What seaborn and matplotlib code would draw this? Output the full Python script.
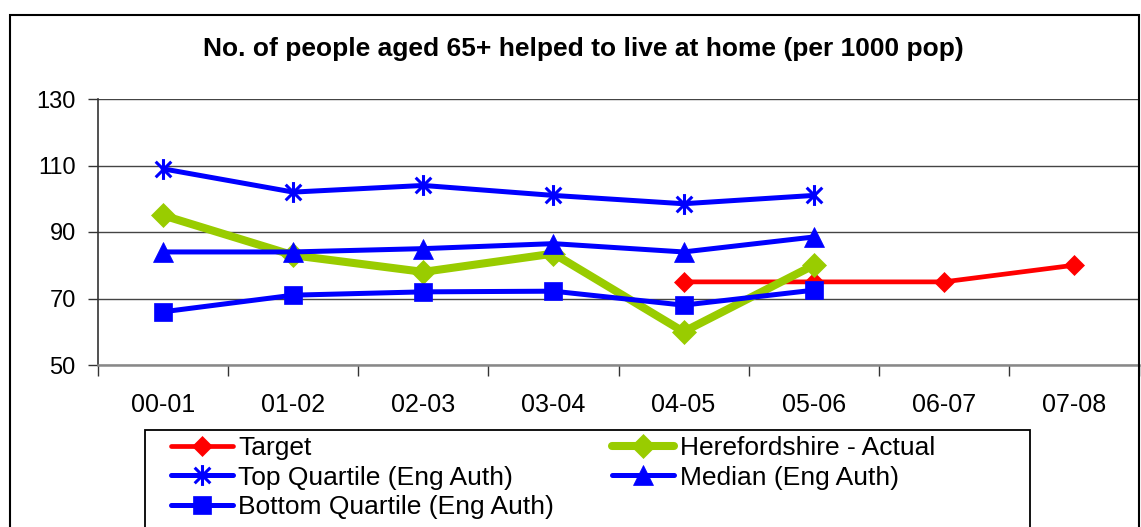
import matplotlib
matplotlib.use("Agg")
import matplotlib.pyplot as plt
from matplotlib.patches import Rectangle
from matplotlib.path import Path
from matplotlib.ticker import FixedLocator
import numpy as np
import pandas as pd
import seaborn as sns

# Financial years on the x axis
years = ["00-01", "01-02", "02-03", "03-04", "04-05", "05-06", "06-07", "07-08"]

# Series values (per 1000 population); None where no value exists
target = [None, None, None, None, 75, 75, 75, 80]
hereford_actual = [95, 83, 78, 83.5, 60, 80, None, None]
top_quartile = [109, 102, 104, 101, 98.5, 101, None, None]
median = [84, 84, 85, 86.5, 84, 88.5, None, None]
bottom_quartile = [66, 71, 72, 72.2, 68, 72.5, None, None]

# Asterisk marker: vertical stroke plus an X
star = Path(
    [(0, -1), (0, 1), (-0.75, -0.75), (0.75, 0.75), (-0.75, 0.75), (0.75, -0.75)],
    [Path.MOVETO, Path.LINETO, Path.MOVETO, Path.LINETO, Path.MOVETO, Path.LINETO],
)

series = [
    ("Target", target, dict(color="#FF0000", marker="D", lw=3.4, ms=10.5)),
    ("Herefordshire - Actual", hereford_actual, dict(color="#99CC00", marker="D", lw=5.8, ms=12.5)),
    ("Top Quartile (Eng Auth)", top_quartile, dict(color="#0000FF", marker=star, lw=3.6, ms=15)),
    ("Median (Eng Auth)", median, dict(color="#0000FF", marker="^", lw=3.6, ms=15)),
    ("Bottom Quartile (Eng Auth)", bottom_quartile, dict(color="#0000FF", marker="s", lw=3.6, ms=13.5)),
]

sns.set_theme(style="white")
plt.rcParams["font.family"] = ["Liberation Sans", "DejaVu Sans"]
plt.rcParams["text.color"] = "black"

W, H = 1141, 527
fig = plt.figure(figsize=(W / 100, H / 100), dpi=100)
ax = fig.add_axes([98 / W, 1 - 365 / H, (1139 - 98) / W, (365 - 99) / H])

handles = {}
for name, vals, st in series:
    df = pd.DataFrame({"x": np.arange(len(years)),
                       "y": [np.nan if v is None else v for v in vals]}).dropna()
    is_star = isinstance(st["marker"], Path)
    sns.lineplot(
        data=df, x="x", y="y", ax=ax, color=st["color"], linewidth=st["lw"],
        marker=st["marker"], markersize=st["ms"],
        markeredgecolor=st["color"],
        markerfacecolor="none" if is_star else st["color"],
        markeredgewidth=2.2 if is_star else 0.5,
        label=name, legend=False, zorder=3,
    )
    handles[name] = ax.lines[-1]

ax.set_xlim(-0.5, len(years) - 0.5)
ax.set_ylim(50, 130)
ax.set_yticks([50, 70, 90, 110, 130])
ax.set_xticks(np.arange(len(years)))
ax.set_xticklabels(years)
ax.xaxis.set_minor_locator(FixedLocator(np.arange(len(years) + 1) - 0.5))
ax.set_xlabel("")
ax.set_ylabel("")

ax.yaxis.grid(True, color="#444444", linewidth=1.0)
ax.set_axisbelow(True)
for s in ["top", "right"]:
    ax.spines[s].set_visible(False)
ax.spines["left"].set_color("#333333")
ax.spines["left"].set_linewidth(1.2)
ax.spines["bottom"].set_color("#888888")
ax.spines["bottom"].set_linewidth(1.8)

ax.tick_params(axis="y", which="major", left=True, length=7, width=1, color="#333333",
               labelsize=17, pad=9, labelcolor="black")
ax.tick_params(axis="x", which="major", bottom=False, length=0, labelsize=18, pad=20,
               labelcolor="black")
ax.tick_params(axis="x", which="minor", bottom=True, length=8, width=1, color="#333333")

fig.text(0.511, 1 - 49 / H, "No. of people aged 65+ helped to live at home (per 1000 pop)",
         ha="center", va="center", fontsize=19, fontweight="bold", color="black")

# Legend entries laid out row by row: Target / Herefordshire, Top / Median, Bottom
order = ["Target", "Top Quartile (Eng Auth)", "Bottom Quartile (Eng Auth)",
         "Herefordshire - Actual", "Median (Eng Auth)"]
leg = fig.legend(
    [handles[n] for n in order], order, ncol=2, loc="upper left",
    bbox_to_anchor=(171 / W, 1 - 436 / H), frameon=False, fontsize=19,
    handlelength=2.35, handletextpad=0.2, borderpad=0, labelspacing=0.21,
    columnspacing=2.2, borderaxespad=0, labelcolor="black",
)

# Legend frame
fig.patches.append(Rectangle((145 / W, -0.1), (1030 - 145) / W, 1 - 430 / H + 0.1,
                             transform=fig.transFigure, fill=False, edgecolor="black",
                             linewidth=1.3))

# Outer chart border
fig.patches.append(Rectangle((10 / W, -0.1), (1139 - 10) / W, 1 - 15 / H + 0.1,
                             transform=fig.transFigure, fill=False, edgecolor="black",
                             linewidth=1.5))

fig.savefig("out.png", dpi=100)
